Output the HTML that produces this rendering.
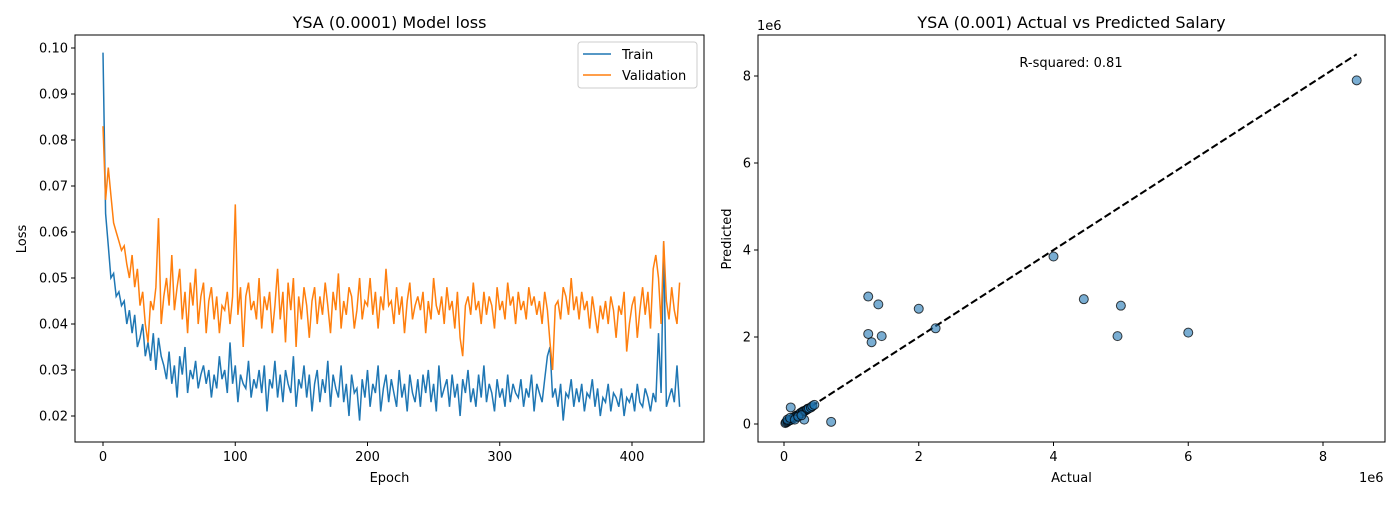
<!DOCTYPE html>
<html><head><meta charset="utf-8"><style>
body{margin:0;background:#fff}
svg{font-family:"DejaVu Sans","Liberation Sans",sans-serif}
</style></head><body>
<svg id="chart" width="1400" height="500" xmlns="http://www.w3.org/2000/svg"></svg>
<script>
const trainLoss=[0.099,0.064,0.057,0.050,0.051,0.046,0.047,0.044,0.045,0.040,0.043,0.038,0.042,0.035,0.037,0.040,0.033,0.036,0.032,0.038,
0.030,0.037,0.033,0.031,0.028,0.034,0.027,0.031,0.024,0.033,0.029,0.035,0.025,0.030,0.028,0.032,0.026,0.029,0.031,0.027,
0.030,0.024,0.029,0.026,0.033,0.028,0.030,0.025,0.036,0.027,0.031,0.023,0.029,0.027,0.026,0.032,0.024,0.028,0.026,0.030,
0.025,0.031,0.021,0.028,0.026,0.032,0.024,0.029,0.023,0.030,0.027,0.025,0.033,0.022,0.028,0.026,0.031,0.024,0.029,0.021,
0.027,0.030,0.023,0.028,0.025,0.032,0.022,0.029,0.026,0.024,0.031,0.023,0.027,0.020,0.029,0.025,0.026,0.019,0.028,0.024,
0.030,0.022,0.027,0.025,0.031,0.021,0.026,0.029,0.023,0.028,0.025,0.022,0.030,0.024,0.027,0.021,0.029,0.025,0.023,0.028,
0.022,0.029,0.025,0.030,0.023,0.027,0.021,0.031,0.024,0.026,0.028,0.022,0.029,0.024,0.027,0.020,0.028,0.025,0.030,0.023,
0.026,0.022,0.029,0.024,0.031,0.023,0.027,0.025,0.021,0.028,0.024,0.026,0.022,0.029,0.023,0.027,0.025,0.024,0.028,0.022,
0.026,0.024,0.029,0.021,0.027,0.025,0.023,0.028,0.033,0.035,0.024,0.026,0.022,0.027,0.019,0.025,0.024,0.028,0.022,0.026,
0.023,0.027,0.021,0.025,0.024,0.028,0.022,0.026,0.020,0.024,0.023,0.027,0.021,0.025,0.024,0.022,0.026,0.020,0.024,0.023,
0.025,0.021,0.027,0.023,0.022,0.026,0.024,0.021,0.025,0.023,0.038,0.025,0.058,0.022,0.024,0.026,0.023,0.031,0.022];
const valLoss=[0.083,0.067,0.074,0.068,0.062,0.060,0.058,0.056,0.057,0.053,0.050,0.055,0.048,0.052,0.044,0.047,0.040,0.036,0.045,0.043,
0.048,0.063,0.040,0.046,0.050,0.044,0.055,0.043,0.048,0.052,0.041,0.047,0.038,0.049,0.044,0.052,0.040,0.046,0.049,0.038,
0.045,0.048,0.041,0.046,0.038,0.044,0.043,0.047,0.040,0.046,0.066,0.042,0.048,0.035,0.046,0.049,0.043,0.045,0.041,0.050,
0.039,0.046,0.043,0.047,0.038,0.044,0.052,0.041,0.047,0.036,0.049,0.043,0.050,0.035,0.046,0.041,0.048,0.044,0.037,0.045,
0.048,0.040,0.046,0.042,0.049,0.044,0.038,0.047,0.043,0.051,0.039,0.045,0.042,0.048,0.046,0.039,0.043,0.050,0.041,0.045,
0.044,0.050,0.042,0.047,0.039,0.046,0.043,0.052,0.044,0.045,0.040,0.048,0.042,0.046,0.038,0.045,0.049,0.041,0.044,0.046,
0.043,0.047,0.038,0.045,0.041,0.050,0.044,0.042,0.046,0.040,0.048,0.043,0.045,0.039,0.047,0.037,0.033,0.044,0.046,0.042,
0.049,0.043,0.045,0.040,0.047,0.042,0.046,0.044,0.039,0.048,0.043,0.045,0.041,0.049,0.044,0.046,0.040,0.047,0.043,0.045,
0.041,0.048,0.044,0.046,0.042,0.045,0.040,0.047,0.043,0.036,0.030,0.044,0.045,0.041,0.048,0.046,0.042,0.050,0.043,0.046,
0.041,0.047,0.043,0.045,0.039,0.046,0.042,0.038,0.044,0.041,0.045,0.040,0.046,0.043,0.037,0.044,0.042,0.047,0.034,0.040,
0.044,0.046,0.037,0.043,0.048,0.042,0.047,0.039,0.052,0.055,0.050,0.040,0.058,0.045,0.041,0.048,0.043,0.040,0.049];
const epochStep=2;
const lossYTicks=[0.02,0.03,0.04,0.05,0.06,0.07,0.08,0.09,0.10];
const epochXTicks=[0,100,200,300,400];
const actualVals=[8.5,4.0,4.45,5.0,4.95,6.0,2.0,2.25,1.25,1.4,1.25,1.3,1.45,0.7,0.1,0.3,
0.02,0.03,0.05,0.06,0.08,0.1,0.12,0.14,0.15,0.17,0.18,0.2,0.22,0.24,0.25,0.27,0.28,0.3,0.32,0.34,0.35,0.37,0.4,0.42,0.45,0.05,0.09,0.16,0.21,0.26];
const predictedVals=[7.9,3.85,2.87,2.72,2.02,2.1,2.65,2.2,2.93,2.75,2.07,1.88,2.02,0.05,0.38,0.1,
0.02,0.04,0.05,0.07,0.08,0.09,0.12,0.13,0.16,0.15,0.19,0.2,0.21,0.24,0.26,0.25,0.29,0.3,0.31,0.33,0.35,0.36,0.38,0.41,0.44,0.1,0.14,0.1,0.17,0.2];
const scatterXTicks=[0,2,4,6,8];
const scatterYTicks=[0,2,4,6,8];

const svg=document.getElementById('chart');
const NS='http://www.w3.org/2000/svg';
function mk(tag,attrs,parent){const e=document.createElementNS(NS,tag);for(const k in attrs)e.setAttribute(k,attrs[k]);(parent||svg).appendChild(e);return e;}
function txt(s,attrs,parent){const e=mk('text',attrs,parent);e.textContent=s;return e;}

const L={x0:75,x1:704,y0:35,y1:442};
const lx=v=>103+(v-0)*(632-103)/400;
const ly=v=>416-(v-0.02)*(416-48)/0.08;
const g1=mk('g',{});


const clip=mk('clipPath',{id:'c1'},g1);mk('rect',{x:L.x0,y:L.y0,width:L.x1-L.x0,height:L.y1-L.y0},clip);
function linePath(arr){return arr.map((v,i)=>(i?'L':'M')+lx(i*epochStep).toFixed(1)+','+ly(v).toFixed(1)).join('');}
const trainPath=mk('path',{d:linePath(trainLoss),fill:'none',stroke:'#1f77b4','stroke-width':1.5,'clip-path':'url(#c1)'},g1);


const valPath=mk('path',{d:linePath(valLoss),fill:'none',stroke:'#ff7f0e','stroke-width':1.5,'clip-path':'url(#c1)'},g1);


mk('rect',{x:L.x0,y:L.y0,width:L.x1-L.x0,height:L.y1-L.y0,fill:'none',stroke:'#000','stroke-width':1},g1);
lossYTicks.forEach(t=>{const y=ly(t);mk('line',{x1:L.x0-4,x2:L.x0,y1:y,y2:y,stroke:'#000'},g1);
 const e=txt(t.toFixed(2),{x:L.x0-7,y:y+4.5,'text-anchor':'end','font-size':13,fill:'#000'},g1);
 });
epochXTicks.forEach(t=>{const x=lx(t);mk('line',{x1:x,x2:x,y1:L.y1,y2:L.y1+4,stroke:'#000'},g1);
 const e=txt(String(t),{x:x,y:L.y1+19,'text-anchor':'middle','font-size':13,fill:'#000'},g1);
 });
const t1=txt('YSA (0.0001) Model loss',{x:(L.x0+L.x1)/2,y:28,'text-anchor':'middle','font-size':16},g1);

const xl1=txt('Epoch',{x:(L.x0+L.x1)/2,y:482,'text-anchor':'middle','font-size':13},g1);

const yl1=txt('Loss',{x:0,y:0,'text-anchor':'middle','font-size':13,transform:'translate(26,239) rotate(-90)'},g1);

const lg=mk('g',{},g1);

mk('rect',{x:578,y:42,width:119,height:46,rx:3,fill:'#fff',stroke:'#ccc'},lg);
mk('line',{x1:583,x2:611,y1:54,y2:54,stroke:'#1f77b4','stroke-width':1.5},lg);
mk('line',{x1:583,x2:611,y1:75,y2:75,stroke:'#ff7f0e','stroke-width':1.5},lg);
const le1=txt('Train',{x:622,y:59,'font-size':13},lg);
const le2=txt('Validation',{x:622,y:80,'font-size':13},lg);

const R={x0:758,x1:1385,y0:35,y1:442};
const rx=v=>784+v*(1323-784)/8;
const ry=v=>424-v*(424-76)/8;
const g2=mk('g',{});


const dl=mk('line',{x1:rx(0),y1:ry(0),x2:rx(8.5),y2:ry(8.5),stroke:'#000','stroke-width':2,'stroke-dasharray':'7.4,3.2'},g2);

actualVals.forEach((a,i)=>{const c=mk('circle',{cx:rx(a),cy:ry(predictedVals[i]),r:4.5,fill:'rgba(31,119,180,0.6)',stroke:'#000','stroke-opacity':0.75,'stroke-width':1},g2);
 });
mk('rect',{x:R.x0,y:R.y0,width:R.x1-R.x0,height:R.y1-R.y0,fill:'none',stroke:'#000'},g2);
scatterYTicks.forEach(t=>{const y=ry(t);mk('line',{x1:R.x0-4,x2:R.x0,y1:y,y2:y,stroke:'#000'},g2);
 const e=txt(String(t),{x:R.x0-7,y:y+4.5,'text-anchor':'end','font-size':13},g2);
 });
scatterXTicks.forEach(t=>{const x=rx(t);mk('line',{x1:x,x2:x,y1:R.y1,y2:R.y1+4,stroke:'#000'},g2);
 const e=txt(String(t),{x:x,y:R.y1+19,'text-anchor':'middle','font-size':13},g2);
 });
const o1=txt('1e6',{x:757,y:30,'font-size':13},g2);
const o2=txt('1e6',{x:1359,y:482,'font-size':13},g2);
const t2=txt('YSA (0.001) Actual vs Predicted Salary',{x:(R.x0+R.x1)/2,y:28,'text-anchor':'middle','font-size':16},g2);

const rs=txt('R-squared: 0.81',{x:1071,y:67,'text-anchor':'middle','font-size':13},g2);

const xl2=txt('Actual',{x:(R.x0+R.x1)/2,y:482,'text-anchor':'middle','font-size':13},g2);

const yl2=txt('Predicted',{x:0,y:0,'text-anchor':'middle','font-size':13,transform:'translate(731,239) rotate(-90)'},g2);

</script>
</body></html>
